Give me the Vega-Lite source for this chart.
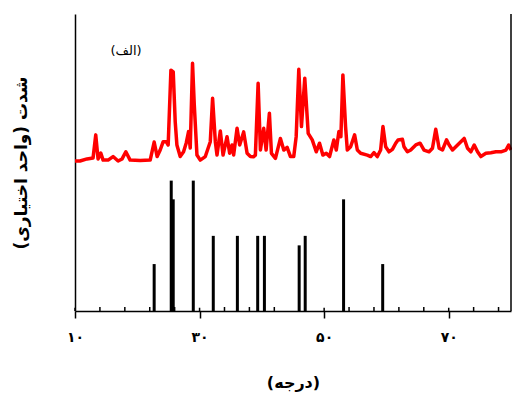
{
  "$schema": "https://vega.github.io/schema/vega-lite/v6.json",
  "autosize": "none",
  "padding": {"left": 75, "top": 14, "right": 1, "bottom": 88},
  "width": 436,
  "height": 297,
  "config": {"view": {"stroke": null}, "font": "DejaVu Sans"},
  "datasets": {
    "pattern": [
      {"t": 10.0, "i": 50.5}, {"t": 10.8, "i": 50.5}, {"t": 11.93, "i": 51.2}, {"t": 12.9, "i": 51.5},
      {"t": 13.33, "i": 59.3}, {"t": 13.7, "i": 51.2}, {"t": 14.14, "i": 53.2}, {"t": 14.51, "i": 50.8},
      {"t": 15.31, "i": 50.8}, {"t": 16.11, "i": 52.0}, {"t": 16.92, "i": 50.5}, {"t": 17.56, "i": 51.2},
      {"t": 18.16, "i": 53.6}, {"t": 18.85, "i": 50.8}, {"t": 20.46, "i": 50.7}, {"t": 22.07, "i": 50.8},
      {"t": 22.71, "i": 56.9}, {"t": 23.19, "i": 52.0}, {"t": 23.68, "i": 54.2}, {"t": 24.16, "i": 57.0},
      {"t": 24.64, "i": 57.0}, {"t": 24.96, "i": 55.9}, {"t": 25.4, "i": 81.1}, {"t": 25.77, "i": 80.5},
      {"t": 26.09, "i": 63.7}, {"t": 26.36, "i": 55.9}, {"t": 26.89, "i": 52.0}, {"t": 27.43, "i": 53.6},
      {"t": 27.86, "i": 56.6}, {"t": 28.23, "i": 60.4}, {"t": 28.5, "i": 54.9}, {"t": 28.87, "i": 83.4},
      {"t": 29.15, "i": 69.4}, {"t": 29.58, "i": 52.5}, {"t": 30.11, "i": 50.8}, {"t": 30.92, "i": 52.0},
      {"t": 31.72, "i": 57.0}, {"t": 32.09, "i": 71.6}, {"t": 32.53, "i": 57.0}, {"t": 32.8, "i": 52.5},
      {"t": 33.33, "i": 60.6}, {"t": 33.77, "i": 52.5}, {"t": 34.41, "i": 58.7}, {"t": 34.83, "i": 53.1},
      {"t": 35.21, "i": 55.9}, {"t": 35.47, "i": 52.5}, {"t": 36.02, "i": 61.5}, {"t": 36.44, "i": 55.9},
      {"t": 37.08, "i": 60.3}, {"t": 37.63, "i": 53.1}, {"t": 38.16, "i": 52.0}, {"t": 38.64, "i": 51.9},
      {"t": 38.96, "i": 52.5}, {"t": 39.4, "i": 76.7}, {"t": 39.77, "i": 54.2}, {"t": 40.3, "i": 61.5},
      {"t": 40.68, "i": 54.2}, {"t": 41.21, "i": 66.6}, {"t": 41.54, "i": 53.1}, {"t": 42.18, "i": 51.4},
      {"t": 42.98, "i": 58.1}, {"t": 43.52, "i": 54.2}, {"t": 44.06, "i": 55.1}, {"t": 44.59, "i": 52.0},
      {"t": 45.12, "i": 52.0}, {"t": 45.51, "i": 58.7}, {"t": 45.93, "i": 81.4}, {"t": 46.36, "i": 62.1},
      {"t": 46.89, "i": 78.4}, {"t": 47.44, "i": 59.8}, {"t": 48.09, "i": 57.6}, {"t": 48.73, "i": 53.6},
      {"t": 49.26, "i": 56.5}, {"t": 49.79, "i": 52.5}, {"t": 50.34, "i": 53.1}, {"t": 50.87, "i": 52.0},
      {"t": 51.56, "i": 57.6}, {"t": 51.95, "i": 54.2}, {"t": 52.37, "i": 60.4}, {"t": 52.69, "i": 58.7},
      {"t": 53.01, "i": 79.5}, {"t": 53.44, "i": 62.1}, {"t": 53.72, "i": 54.2}, {"t": 54.25, "i": 55.3},
      {"t": 54.89, "i": 59.3}, {"t": 55.33, "i": 54.2}, {"t": 55.86, "i": 53.1}, {"t": 56.93, "i": 52.5},
      {"t": 57.47, "i": 52.0}, {"t": 58.0, "i": 53.3}, {"t": 58.54, "i": 52.0}, {"t": 59.07, "i": 54.2},
      {"t": 59.44, "i": 62.1}, {"t": 59.88, "i": 55.3}, {"t": 60.41, "i": 53.6}, {"t": 60.96, "i": 54.4},
      {"t": 61.49, "i": 56.5}, {"t": 61.86, "i": 57.6}, {"t": 62.57, "i": 57.8}, {"t": 62.82, "i": 55.3},
      {"t": 63.37, "i": 53.6}, {"t": 63.9, "i": 54.2}, {"t": 64.71, "i": 55.9}, {"t": 65.4, "i": 56.5},
      {"t": 66.04, "i": 54.2}, {"t": 66.85, "i": 53.6}, {"t": 67.39, "i": 54.8}, {"t": 67.92, "i": 61.2},
      {"t": 68.46, "i": 54.8}, {"t": 69.0, "i": 54.2}, {"t": 69.65, "i": 57.6}, {"t": 70.07, "i": 55.9},
      {"t": 70.61, "i": 54.2}, {"t": 71.42, "i": 55.9}, {"t": 72.48, "i": 58.1}, {"t": 73.02, "i": 54.8},
      {"t": 73.56, "i": 53.6}, {"t": 74.09, "i": 55.9}, {"t": 74.63, "i": 53.6}, {"t": 75.16, "i": 52.0},
      {"t": 75.97, "i": 53.1}, {"t": 76.77, "i": 53.3}, {"t": 77.58, "i": 53.6}, {"t": 78.38, "i": 53.6},
      {"t": 79.19, "i": 54.2}, {"t": 79.62, "i": 55.9}, {"t": 79.99, "i": 54.2}
    ],
    "sticks": [
      {"t": 22.71, "i": 15.8}, {"t": 25.45, "i": 43.9}, {"t": 25.77, "i": 37.6}, {"t": 28.99, "i": 43.9},
      {"t": 32.2, "i": 25.3}, {"t": 36.07, "i": 25.3}, {"t": 39.33, "i": 25.3}, {"t": 40.41, "i": 25.3},
      {"t": 45.99, "i": 22.1}, {"t": 46.96, "i": 25.3}, {"t": 53.12, "i": 37.6}, {"t": 59.4, "i": 15.8}
    ],
    "ticks": [
      {"t": 10, "top": 1.1}, {"t": 14, "top": 1.35}, {"t": 18, "top": 1.35}, {"t": 22, "top": 1.35},
      {"t": 26, "top": 1.35}, {"t": 30, "top": 1.1}, {"t": 34, "top": 1.35}, {"t": 38, "top": 1.35},
      {"t": 42, "top": 1.35}, {"t": 46, "top": 1.35}, {"t": 50, "top": 1.1}, {"t": 54, "top": 1.35},
      {"t": 58, "top": 1.35}, {"t": 62, "top": 1.35}, {"t": 66, "top": 1.35}, {"t": 70, "top": 1.1},
      {"t": 74, "top": 1.35}, {"t": 78, "top": 1.35}
    ],
    "labels": [{"t": 18.2, "i": 87.5, "txt": "(الف)"}]
  },
  "layer": [
    {
      "data": {"name": "pattern"},
      "mark": {"type": "line", "color": "#ff0000", "strokeWidth": 3.5, "strokeJoin": "round"},
      "encoding": {
        "x": {
          "field": "t", "type": "quantitative",
          "scale": {"domain": [10, 80], "nice": false, "zero": false},
          "axis": {
            "values": [10, 30, 50, 70],
            "labelExpr": "datum.value == 10 ? '۱۰' : datum.value == 30 ? '۳۰' : datum.value == 50 ? '۵۰' : '۷۰'",
            "labelFlush": false,
            "labelOverlap": false,
            "labelFont": "DejaVu Sans", "labelFontWeight": "bold", "labelFontSize": 14, "labelColor": "black",
            "labelPadding": 12,
            "tickSize": 7,
            "tickColor": "black", "tickWidth": 1.5,
            "domainColor": "black", "domainWidth": 1.5,
            "grid": false,
            "title": "(درجه)", "titleFont": "DejaVu Sans", "titleFontWeight": "bold", "titleFontSize": 16,
            "titleColor": "black", "titlePadding": 30
          }
        },
        "y": {
          "field": "i", "type": "quantitative",
          "scale": {"domain": [0, 100], "nice": false},
          "axis": {
            "labels": false, "ticks": false, "grid": false,
            "domainColor": "black", "domainWidth": 1.5,
            "title": "شدت (واحد اختیاری)", "titleFont": "DejaVu Sans", "titleFontWeight": "bold",
            "titleFontSize": 17, "titleColor": "black", "titlePadding": 45
          }
        }
      }
    },
    {
      "data": {"name": "sticks"},
      "mark": {"type": "rule", "color": "black", "strokeWidth": 3},
      "encoding": {
        "x": {"field": "t", "type": "quantitative"},
        "y": {"field": "i", "type": "quantitative"},
        "y2": {"datum": 0}
      }
    },
    {
      "data": {"name": "ticks"},
      "mark": {"type": "rule", "color": "black", "strokeWidth": 1.5},
      "encoding": {
        "x": {"field": "t", "type": "quantitative"},
        "y": {"field": "top", "type": "quantitative"},
        "y2": {"datum": 0}
      }
    },
    {
      "data": {"name": "labels"},
      "mark": {"type": "text", "font": "DejaVu Sans", "fontSize": 13, "color": "black"},
      "encoding": {
        "x": {"field": "t", "type": "quantitative"},
        "y": {"field": "i", "type": "quantitative"},
        "text": {"field": "txt"}
      }
    },
    {
      "data": {"values": [{}]},
      "mark": {"type": "rule", "color": "black", "strokeWidth": 1.5},
      "encoding": {"x": {"datum": 80}}
    }
  ]
}
